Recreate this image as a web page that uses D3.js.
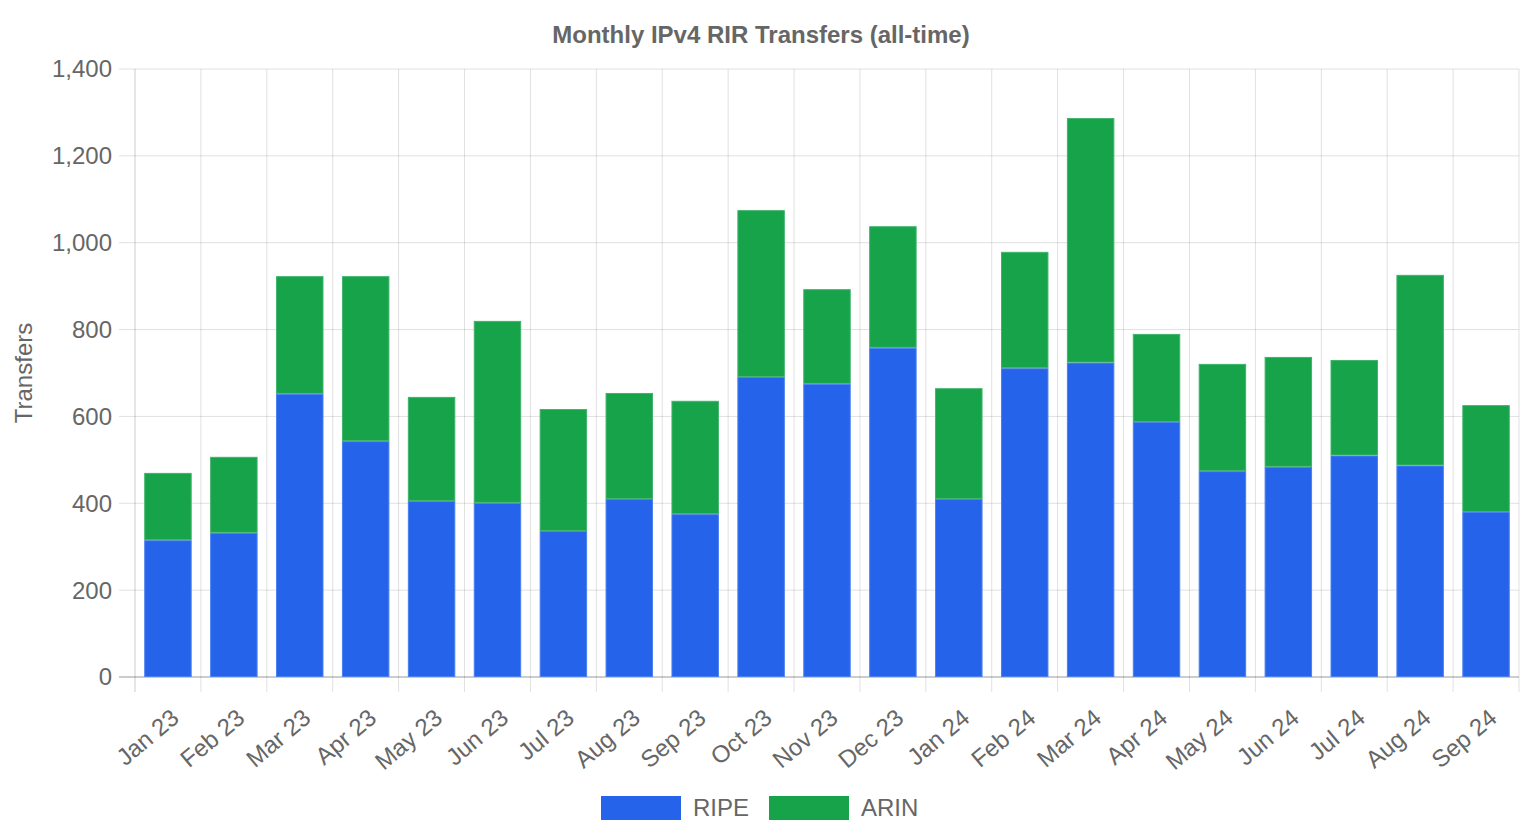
<!DOCTYPE html>
<html>
<head>
<meta charset="utf-8">
<script src="https://cdn.jsdelivr.net/npm/d3@7"></script>
<style>
  body { margin: 0; background: #fff; }
  svg { display: block; font-family: "Liberation Sans", Arial, sans-serif; }
</style>
</head>
<body>
<script>
// categories and series
var months = ['Jan 23', 'Feb 23', 'Mar 23', 'Apr 23', 'May 23', 'Jun 23', 'Jul 23',
  'Aug 23', 'Sep 23', 'Oct 23', 'Nov 23', 'Dec 23', 'Jan 24', 'Feb 24', 'Mar 24',
  'Apr 24', 'May 24', 'Jun 24', 'Jul 24', 'Aug 24', 'Sep 24'];
var ripe = [315, 332, 652, 543, 405, 401, 336, 410, 375, 691, 675, 758, 410, 711, 724,
  587, 474, 484, 510, 487, 380];
var arin = [155, 175, 271, 380, 240, 419, 281, 244, 261, 384, 218, 280, 255, 268, 563,
  203, 247, 253, 220, 439, 246];
var yTicks = [0, 200, 400, 600, 800, 1000, 1200, 1400];

var seriesNames = ['RIPE', 'ARIN'];
var colors = { RIPE: '#2563eb', ARIN: '#16a34a' };
var strokes = { RIPE: '#4a7ff0', ARIN: '#3fb36a' };

var width = 1520, height = 840;
var margin = { top: 69, right: 1, bottom: 163, left: 135 };

var svg = d3.select('body').append('svg')
  .attr('width', width)
  .attr('height', height);

var x = d3.scaleBand()
  .domain(months)
  .range([margin.left, width - margin.right])
  .paddingInner(0.28)
  .paddingOuter(0.14);

var y = d3.scaleLinear()
  .domain([0, 1400])
  .range([height - margin.bottom, margin.top]);

var step = x.step();
var x0 = margin.left, x1 = width - margin.right;
var y0 = y(0), yTop = y(1400);

// horizontal grid
svg.append('g').selectAll('line')
  .data(yTicks)
  .enter().append('line')
  .attr('x1', x0 - 16).attr('x2', x1)
  .attr('y1', function(d) { return y(d); })
  .attr('y2', function(d) { return y(d); })
  .attr('stroke', d => d === 0 ? 'rgba(0,0,0,0.2)' : 'rgba(0,0,0,0.12)')
  .attr('stroke-width', d => d === 0 ? 2 : 1);

// vertical grid (category boundaries)
var bounds = d3.range(months.length + 1).map(function(i) { return x0 + i * step; });
svg.append('g').selectAll('line')
  .data(bounds)
  .enter().append('line')
  .attr('x1', d => d).attr('x2', d => d)
  .attr('y1', yTop).attr('y2', y0 + 15)
  .attr('stroke', (d, i) => i === 0 ? 'rgba(0,0,0,0.2)' : 'rgba(0,0,0,0.12)')
  .attr('stroke-width', 1);

// stacked bars
var rows = months.map(function(m, i) { return { month: m, RIPE: ripe[i], ARIN: arin[i] }; });
var stacked = d3.stack().keys(seriesNames)(rows);

svg.append('g').selectAll('g')
  .data(stacked)
  .enter().append('g')
  .attr('fill', d => colors[d.key])
  .attr('stroke', d => strokes[d.key])
  .attr('stroke-width', 1)
  .selectAll('rect')
  .data(d => d)
  .enter().append('rect')
  .attr('x', d => x(d.data.month) + 0.5)
  .attr('width', x.bandwidth() - 1)
  .attr('y', d => y(d[1]) + 0.5)
  .attr('height', d => y(d[0]) - y(d[1]) - 1);

// y tick labels
svg.append('g').selectAll('text')
  .data(yTicks)
  .enter().append('text')
  .attr('x', x0 - 23)
  .attr('y', d => y(d))
  .attr('dy', '0.35em')
  .attr('text-anchor', 'end')
  .attr('fill', '#666')
  .style('font-size', '24px')
  .text(d => d3.format(',')(d));

// x tick labels
svg.append('g').selectAll('text')
  .data(months)
  .enter().append('text')
  .attr('transform', d => 'translate(' + (x(d) + x.bandwidth() / 2 + 7) + ',' + (y0 + 37) + ') rotate(-40)')
  .attr('dy', '0.35em')
  .attr('text-anchor', 'end')
  .attr('fill', '#666')
  .style('font-size', '24px')
  .text(d => d);

// title
svg.append('text')
  .attr('x', 761)
  .attr('y', 43)
  .attr('text-anchor', 'middle')
  .attr('fill', '#666')
  .style('font-size', '24px')
  .style('font-weight', 'bold')
  .text('Monthly IPv4 RIR Transfers (all-time)');

// y axis title
svg.append('text')
  .attr('transform', 'translate(32,' + ((y0 + yTop) / 2) + ') rotate(-90)')
  .attr('text-anchor', 'middle')
  .attr('fill', '#666')
  .style('font-size', '24px')
  .text('Transfers');

// legend
var legend = svg.append('g');
var lx = [601, 769];
seriesNames.forEach(function(name, i) {
  legend.append('rect')
    .attr('x', lx[i]).attr('y', 796)
    .attr('width', 80).attr('height', 24)
    .attr('fill', colors[name]);
  legend.append('text')
    .attr('x', lx[i] + 92).attr('y', 808)
    .attr('dy', '0.35em')
    .attr('fill', '#666')
    .style('font-size', '24px')
    .text(name);
});
</script>
</body>
</html>
